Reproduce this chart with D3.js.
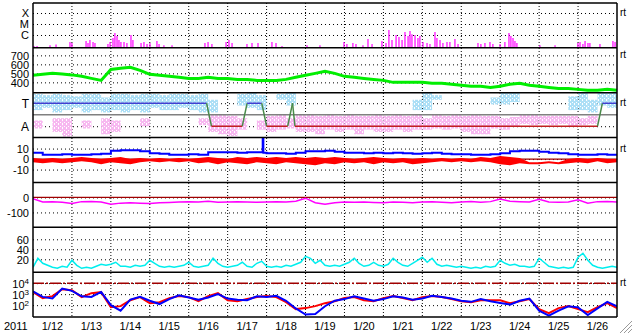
<!DOCTYPE html>
<html>
<head>
<meta charset="utf-8">
<script src="https://cdn.jsdelivr.net/npm/d3@7"></script>
<style>
body { margin: 0; background: #fff; }
svg { display: block; font-family: "Liberation Sans", Arial, sans-serif; }
.grid line { stroke: #000; stroke-dasharray: 1,3; }
</style>
</head>
<body>
<svg width="633" height="334"></svg>
<script>
// hours since 2011-01-12 00:00 UT, 15 days shown
const dayLabels = ['1/12','1/13','1/14','1/15','1/16','1/17','1/18','1/19','1/20','1/21','1/22','1/23','1/24','1/25','1/26'];

// GOES x-ray peaks (flux in units of 1e-7 W/m2)
const xrayHours = [0.6,2.5,10.5,14.2,22.8,24.0,32.7,33.9,35.1,37.0,38.2,46.2,47.5,49.3,50.5,51.8,53.0,54.2,56.1,57.9,60.4,61.6,66.6,68.4,70.3,72.1,76.4,77.7,80.7,85.7,
  106.0,107.9,110.3,119.0,120.8,122.7,131.9,135.0,138.7,147.3,149.8,153.5,168.9,176.9,191.7,193.5,197.2,199.1,203.4,206.5,209.0,215.1,217.6,219.4,221.3,223.8,225.6,227.5,229.3,231.2,232.4,233.6,235.5,237.3,238.5,240.4,242.9,244.7,
  247.8,249.0,250.9,252.7,255.2,257.0,260.1,262.0,274.3,276.1,278.6,281.7,283.5,287.9,290.9,293.4,294.6,295.9,297.1,298.3,312.5,321.8,335.9,337.2,339.0,340.3,342.1,343.3,349.5,357.5,358.8];
const xrayFluxB = [1.0,1.0,1.2,1.4,2.3,1.9,2.9,1.9,3.5,2.3,1.9,1.5,2.3,5.3,15,8.1,3.5,2.3,2.3,1.9,10,3.5,1.9,2.3,1.5,1.9,2.9,1.5,1.2,1.2,
  1.9,2.3,1.5,2.3,3.5,1.9,1.5,1.9,1.9,2.3,1.9,1.0,1.2,1.2,2.3,1.5,1.9,1.5,1.2,4.3,1.5,2.9,1.9,28,3.5,10,6.6,3.5,19,8.1,23,12,10,5.3,8.1,2.3,1.9,1.5,
  19,5.3,3.5,1.9,2.3,2.3,4.3,1.5,1.9,1.5,1.9,2.3,1.5,1.5,2.3,15,8.1,5.3,2.9,1.9,1.2,1.2,1.9,2.3,1.5,2.9,1.9,1.9,1.5,2.9,2.3];

// solar wind speed, 6-hourly (km/s)
const speed = [478,489,500,494,483,467,444,422,544,556,567,533,489,478,467,456,444,444,456,444,
  444,433,433,422,422,422,433,456,478,500,522,500,467,456,444,433,422,400,400,400,
  400,389,389,378,367,356,356,344,356,378,389,367,356,344,333,333,322,311,311,322,311];

// IMF sector: 1 = toward, -1 = away
const sectorHours = [0,107,110,129,132,141,144,157,160,161.5,348,351,360];
const sectorSide = [1,1,-1,-1,1,1,-1,-1,1,-1,-1,1,1];

// spread of the phi angle per 6-hour bin (sector units)
const towardTop = [1.8,1.7,1.8,1.7,1.6,1.8,1.8,1.5,1.8,1.8,1.7,1.8,1.8,1.7,1.8,1.8,1.7,1.8,1.3,null,
  null,1.8,1.9,1.7,null,1.8,1.9,null,null,null,null,null,null,null,null,null,null,null,null,1.3,
  1.97,1.7,null,null,null,null,null,1.5,1.97,1.97,null,null,null,null,null,1.6,1.97,1.3,1.97,1.97];
const towardBot = [0.4,0.6,0.2,0.4,0.6,0.2,0.4,0.2,0.4,0.2,0.4,0.2,0.6,0.4,0.4,0.6,0.4,0.2,0.2,null,
  null,0.8,0.6,0.4,null,1.3,0.8,null,null,null,null,null,null,null,null,null,null,null,null,0.4,
  0.4,1.3,null,null,null,null,null,0.9,0.9,1.1,null,null,null,null,null,0.4,0.4,0.2,0.8,0.6];
const awayTop = [-0.5,null,-0.3,-0.3,null,-0.5,null,-0.3,-0.5,null,null,-0.3,null,null,null,null,null,-0.3,0,0,
  -0.1,-0.3,null,-0.5,-0.1,0,-0.3,0,0,-0.1,0,-0.1,0,-0.1,-0.1,0,-0.1,0,-0.1,0,
  -0.3,0,-0.1,0,-0.1,0,-0.1,-0.1,-0.3,-0.2,0,0,-0.1,-0.1,-0.1,-0.1,-0.3,-0.1,null,null];
const awayBot = [-1.2,null,-1.5,-1.9,null,-1.2,null,-1.7,-1.5,null,null,-1.0,null,null,null,null,null,-0.9,-1.5,-1.7,
  -1.85,-1.3,null,-1.3,-1.5,-1.3,-1.2,-1.5,-1.5,-1.7,-1.3,-1.5,-1.3,-1.7,-1.3,-1.5,-1.5,-1.3,-1.5,-1.3,
  -1.3,-1.2,-1.3,-1.2,-1.5,-1.7,-1.7,-1.2,-1.3,-1.0,-0.8,-0.9,-0.8,-0.9,-0.8,-1.0,-0.9,-0.8,null,null];

// IMF Bt and Bz (nT), 6-hourly
const bt = [6,4,4,4.5,4,4,4.5,5,8,8.5,8.5,7.5,5.5,5,4,4,4.5,4,6.5,6.5,
  6.5,6,6.5,6.5,5.5,5.5,5,6,7.5,7.5,8,7,6,6,5.5,6,5.5,6,5.5,5,
  5.5,6,5,4.5,4.5,4,4,4.5,5.5,7.5,8,8,7,6,5.5,4.5,4,4,4.5,4,4];
const btSpikeHours = [141.6,142.0];
const btSpikeVals = [24,6];
const bzHi = [1,0,1,0,1,2,1,0,1,2,0,1,0,1,0,1,0,1,2,1,
  0,2,1,2,1,2,1,2,1,2,1,2,1,0,1,2,1,0,1,0,
  1,0,1,0,1,0,2,1,3,2,1,-3,-3,-2,-3,0,1,0,1,0,0];
const bzLo = [-3,-4,-3,-4,-3,-2,-3,-5,-3,-4,-5,-3,-2,-3,-2,-3,-2,-4,-3,-5,
  -3,-4,-5,-3,-4,-5,-3,-4,-5,-6,-4,-5,-3,-4,-3,-5,-3,-4,-3,-5,
  -4,-3,-2,-3,-2,-3,-2,-3,-5,-6,-4,-5,-5,-4,-5,-4,-3,-4,-2,-4,-3];

// Dst (nT), 6-hourly
const dst = [-8,-30,-28,-32,-40,-28,-27,-30,-45,-38,-36,-38,-40,-35,-33,-30,-28,-30,-25,-32,
  -30,-28,-30,-32,-30,-28,-30,-25,-5,-35,-45,-35,-30,-32,-30,-33,-35,-30,-32,-35,
  -30,-28,-32,-35,-30,-27,-32,-28,-10,-25,-28,-30,-12,-30,-32,-30,-15,-38,-28,-27,-30];

// solar wind density, 3-hourly
const density = [4,22,12,8,4,2,6,4,18,8,2,4,2,6,10,8,10,14,6,6,
  4,8,6,8,18,12,6,4,6,4,6,8,14,6,4,6,8,22,12,6,
  4,6,8,14,6,4,12,16,6,4,6,4,8,6,10,14,26,22,12,18,
  8,6,8,6,10,14,22,12,6,8,14,8,6,10,22,14,8,6,12,18,
  24,14,22,10,6,8,6,4,6,4,2,4,2,6,4,6,18,12,8,10,
  6,6,4,6,22,14,6,4,2,4,2,4,24,32,18,8,4,2,4,6,4];

// >2 MeV electron flux, log10, 6-hourly (two satellites)
const elecRed = [3.18,2.64,2.82,3.45,3.36,2.73,3.09,3.18,1.82,1.91,2.45,2.73,2.18,2.27,2.64,2.82,2.73,2.36,2.82,3.09,
  2.45,2.36,2.55,2.73,2.82,2.73,2.27,1.64,1.73,1.91,2.18,2.36,2.64,2.73,2.45,2.36,2.64,2.82,2.64,2.45,
  2.73,2.82,2.73,2.55,2.36,2.27,2.45,2.45,2.45,2.18,2.36,2.55,1.64,1.27,1.73,1.91,1.64,1.36,1.82,2.18,1.73];
const elecBlue = [3.25,2.75,2.6,3.5,3.3,2.8,2.75,3.2,2.0,1.5,2.5,2.75,2.4,2.1,2.55,2.9,2.7,2.5,2.7,3.0,
  2.6,2.5,2.45,2.8,2.75,2.85,2.4,1.7,1.15,1.2,1.9,2.4,2.55,2.8,2.6,2.4,2.55,2.8,2.7,2.5,
  2.6,2.85,2.75,2.6,2.4,2.3,2.55,2.35,2.2,2.05,2.4,2.6,1.5,1.05,1.5,1.9,1.8,1.1,1.7,2.3,1.9];

const svg = d3.select('svg');
const left = 33, right = 617, top0 = 3, bottom = 317;
const ph = (bottom - top0) / 7;
const pTop = i => top0 + i * ph;
const x = d3.scaleLinear().domain([0, 360]).range([left, right]);

const defs = svg.append('defs');
for (let i = 0; i < 7; i++) {
    defs.append('clipPath').attr('id', 'c' + i)
        .append('rect').attr('x', left).attr('y', pTop(i)).attr('width', right - left).attr('height', ph);
}
function speckle(id, color) {
    const p = defs.append('pattern').attr('id', id).attr('width', 4).attr('height', 4)
        .attr('patternUnits', 'userSpaceOnUse');
    [[0,0,2,2],[3,0,1,2],[2,1,1,2],[2,2,2,1],[0,3,1,1],[1,2,1,2],[3,3,1,1]].forEach(r => {
        p.append('rect').attr('x', r[0]).attr('y', r[1]).attr('width', r[2]).attr('height', r[3]).attr('fill', color);
    });
}
speckle('spkT', '#acdff6');
speckle('spkA', '#f7b8f0');

const yX = d3.scaleLog().domain([1e-7, 1e-4]).range([pTop(0) + 43, pTop(0) + 10]);
const ySpd = d3.scaleLinear().domain([400, 700]).range([pTop(1) + 34.5, pTop(1) + 7.5]);
const ySec = d3.scaleLinear().domain([-1, 1]).range([pTop(2) + 33.5, pTop(2) + 10.5]);
const yB = d3.scaleLinear().domain([-10, 10]).range([pTop(3) + 32, pTop(3) + 11]);
const yDst = d3.scaleLinear().domain([-100, 0]).range([pTop(4) + 30, pTop(4) + 15]);
const yDen = d3.scaleLinear().domain([20, 60]).range([pTop(5) + 32, pTop(5) + 12]);
const yE = d3.scaleLog().domain([1e2, 1e4]).range([pTop(6) + 33, pTop(6) + 11]);

// left axes with dotted gridlines
const panels = [
    {s: yX, v: [1e-4, 1e-5, 1e-6], l: ['X', 'M', 'C']},
    {s: ySpd, v: [700, 600, 500, 400], l: ['700', '600', '500', '400']},
    {s: ySec, v: [1, -1], l: ['T', 'A'], big: true},
    {s: yB, v: [10, 0, -10], l: ['10', '0', '-10']},
    {s: yDst, v: [0, -100], l: ['0', '-100']},
    {s: yDen, v: [60, 40, 20], l: ['60', '40', '20']},
    {s: yE, v: [1e4, 1e3, 1e2], l: ['4', '3', '2'], pow: true}
];
panels.forEach(p => {
    const g = svg.append('g').attr('class', 'grid')
        .attr('transform', `translate(${left},0)`)
        .call(d3.axisLeft(p.s).tickValues(p.v).tickFormat((d, i) => p.l[i]).tickSize(-(right - left)).tickPadding(4));
    g.select('.domain').remove();
    g.attr('font-family', null).attr('font-size', p.big ? 12 : 11);
    g.selectAll('text').attr('fill', '#000').attr('dy', '0.35em');
    if (p.pow) {
        g.selectAll('text').each(function (d, i) {
            const t = d3.select(this);
            t.text('10').append('tspan').attr('dy', -4).attr('font-size', 8).text(p.l[i]);
        });
    }
});

// vertical day lines
svg.append('g').selectAll('line')
    .data(d3.range(1, 15))
    .join('line')
    .attr('x1', d => x(d * 24)).attr('x2', d => x(d * 24))
    .attr('y1', top0).attr('y2', bottom)
    .attr('stroke', '#000').attr('stroke-dasharray', '1,2');

// reference lines
svg.append('line').attr('x1', left).attr('x2', right).attr('y1', yB(0)).attr('y2', yB(0))
    .attr('stroke', '#a00000').attr('stroke-width', 1.2);
svg.append('line').attr('x1', left).attr('x2', right).attr('y1', yDst(0)).attr('y2', yDst(0))
    .attr('stroke', '#a00000').attr('stroke-width', 1.2);
svg.append('line').attr('x1', left).attr('x2', right).attr('y1', yE(1e4)).attr('y2', yE(1e4))
    .attr('stroke', '#a00000').attr('stroke-width', 1.5).attr('stroke-dasharray', '11,2,2,2');

// x-ray
svg.append('g').attr('clip-path', 'url(#c0)')
    .selectAll('line')
    .data(xrayHours)
    .join('line')
    .attr('x1', d => x(d)).attr('x2', d => x(d))
    .attr('y1', pTop(1))
    .attr('y2', (d, i) => yX(xrayFluxB[i] * 1e-7))
    .attr('stroke', '#ff00ff').attr('stroke-width', 1.2);

// solar wind speed
svg.append('path').attr('clip-path', 'url(#c1)')
    .datum(speed)
    .attr('d', d3.line().x((d, i) => x(i * 6)).y(d => ySpd(d)))
    .attr('fill', 'none').attr('stroke', '#00ee00').attr('stroke-width', 3);

// sector clouds
const binW = x(6) - x(0);
const secG = svg.append('g').attr('clip-path', 'url(#c2)');
towardTop.forEach((d, i) => {
    if (d === null) return;
    secG.append('rect').attr('x', x(i * 6)).attr('width', binW)
        .attr('y', ySec(d)).attr('height', ySec(towardBot[i]) - ySec(d))
        .attr('fill', 'url(#spkT)');
});
awayTop.forEach((d, i) => {
    if (d === null) return;
    secG.append('rect').attr('x', x(i * 6)).attr('width', binW)
        .attr('y', ySec(d)).attr('height', ySec(awayBot[i]) - ySec(d))
        .attr('fill', 'url(#spkA)');
});
secG.append('line').attr('x1', left).attr('x2', right).attr('y1', ySec(0)).attr('y2', ySec(0))
    .attr('stroke', '#808080').attr('stroke-width', 1.5);
for (let i = 0; i < sectorHours.length - 1; i++) {
    const a = sectorSide[i], b = sectorSide[i + 1];
    secG.append('line')
        .attr('x1', x(sectorHours[i])).attr('y1', ySec(a))
        .attr('x2', x(sectorHours[i + 1])).attr('y2', ySec(b))
        .attr('stroke', a !== b ? '#4a8a4a' : (a > 0 ? '#4040d0' : '#c02020'))
        .attr('stroke-width', 1.5);
}

// IMF
const imfG = svg.append('g').attr('clip-path', 'url(#c3)');
const btPts = bt.map((v, i) => [i * 6, v])
    .concat(btSpikeHours.map((h, i) => [h, btSpikeVals[i]]))
    .sort((a, b) => a[0] - b[0]);
imfG.append('path').datum(bzHi)
    .attr('d', d3.area().x((d, i) => x(i * 6)).y0((d, i) => yB(bzLo[i])).y1(d => yB(d)))
    .attr('fill', '#ff0000');
imfG.append('path').datum(btPts)
    .attr('d', d3.line().x(d => x(d[0])).y(d => yB(d[1])).curve(d3.curveStepAfter))
    .attr('fill', 'none').attr('stroke', '#0000ff').attr('stroke-width', 2);

// Dst
svg.append('path').attr('clip-path', 'url(#c4)')
    .datum(dst)
    .attr('d', d3.line().x((d, i) => x(i * 6)).y(d => yDst(d)))
    .attr('fill', 'none').attr('stroke', '#ff00ff').attr('stroke-width', 1.5);

// density
svg.append('path').attr('clip-path', 'url(#c5)')
    .datum(density)
    .attr('d', d3.line().x((d, i) => x(i * 3)).y(d => yDen(d)))
    .attr('fill', 'none').attr('stroke', '#00eeee').attr('stroke-width', 1.5);

// electrons
const eG = svg.append('g').attr('clip-path', 'url(#c6)');
[[elecRed, '#ff0000'], [elecBlue, '#0000ff']].forEach(s => {
    eG.append('path').datum(s[0])
        .attr('d', d3.line().x((d, i) => x(i * 6)).y(d => yE(Math.pow(10, d))))
        .attr('fill', 'none').attr('stroke', s[1]).attr('stroke-width', 2);
});

// frame
for (let i = 0; i <= 7; i++) {
    svg.append('line').attr('x1', left).attr('x2', right).attr('y1', pTop(i)).attr('y2', pTop(i))
        .attr('stroke', '#000').attr('stroke-width', 1.5);
}
[left, right].forEach(xx => {
    svg.append('line').attr('x1', xx).attr('x2', xx).attr('y1', top0).attr('y2', bottom)
        .attr('stroke', '#000').attr('stroke-width', 1.5);
});

// "rt" markers
[[0, 1e-4, yX], [1, 700, ySpd], [2, 1, ySec], [3, 10, yB], [6, 1e4, yE]].forEach(r => {
    svg.append('text').attr('x', right + 3).attr('y', r[2](r[1]) + 3)
        .attr('font-size', 10).text('rt');
});

// date labels
svg.append('text').attr('x', 4).attr('y', 330).attr('font-size', 11).text('2011');
svg.selectAll('.day')
    .data(dayLabels)
    .join('text')
    .attr('class', 'day')
    .attr('x', (d, i) => x(i * 24 + 12))
    .attr('y', 330)
    .attr('text-anchor', 'middle')
    .attr('font-size', 11)
    .text(d => d);

// window grip
[0, 4, 8].forEach(o => {
    svg.append('line').attr('x1', 620 + o).attr('y1', 333).attr('x2', 632).attr('y2', 321 + o)
        .attr('stroke', '#999').attr('stroke-width', 1);
});
</script>
</body>
</html>
